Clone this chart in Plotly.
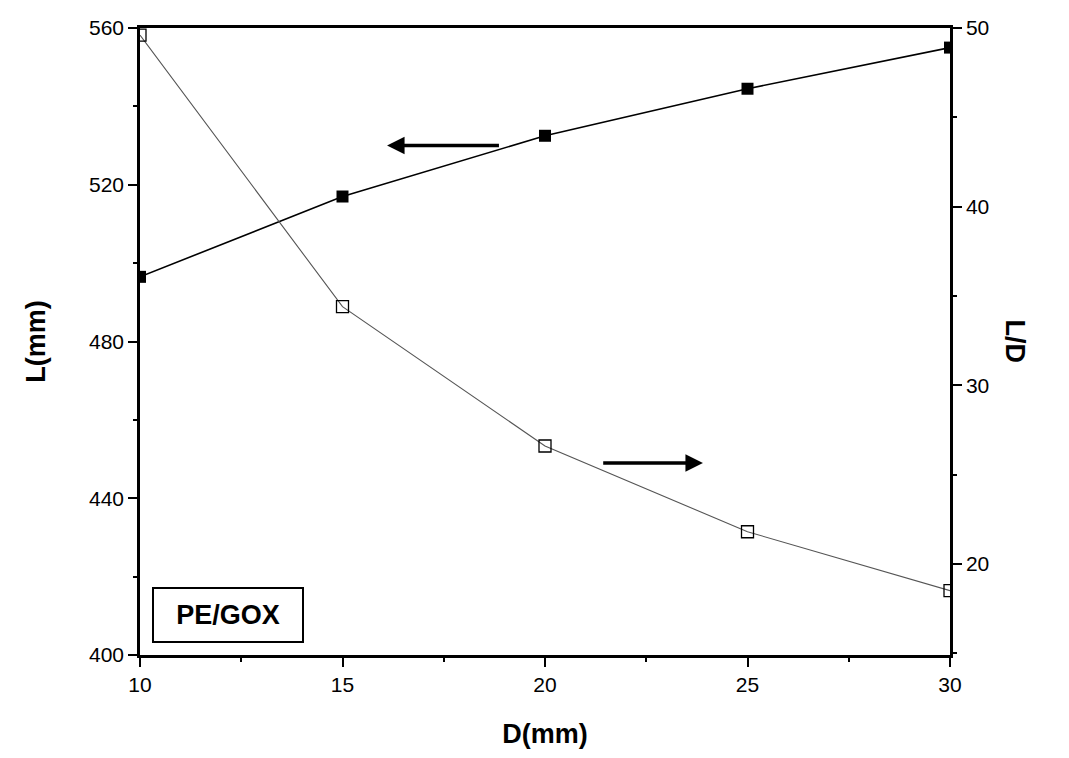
import plotly.graph_objects as go

D = [10, 15, 20, 25, 30]
L = [496.5, 517, 532.5, 544.5, 555]
LD = [49.6, 34.4, 26.6, 21.8, 18.5]

x_ticks = [10, 15, 20, 25, 30]
y_ticks = [400, 440, 480, 520, 560]
y2_ticks = [20, 30, 40, 50]

FONT = "Liberation Sans, Arial, sans-serif"

fig = go.Figure()
fig.add_trace(go.Scatter(
    x=D, y=L, mode="lines+markers",
    line=dict(color="black", width=1.6),
    marker=dict(symbol="square", size=12, color="black"),
    yaxis="y", showlegend=False))
fig.add_trace(go.Scatter(
    x=D, y=LD, mode="lines+markers",
    line=dict(color="#555555", width=1.1),
    marker=dict(symbol="square-open", size=12, color="black", line=dict(width=1.3)),
    yaxis="y2", showlegend=False))

axis_common = dict(showgrid=False, zeroline=False, linecolor="black", linewidth=2.5,
                   ticks="outside", tickcolor="black", tickwidth=2, ticklen=9,
                   tickfont=dict(family=FONT, size=21, color="black"))

fig.update_layout(
    width=1069, height=758,
    paper_bgcolor="white", plot_bgcolor="white",
    margin=dict(l=140, r=119, t=28, b=103),
    xaxis=dict(range=[10, 30], tickvals=x_ticks, mirror=True,
               minor=dict(ticks="outside", ticklen=4, tickcolor="black", dtick=2.5, tick0=10),
               title=dict(text="<b>D(mm)</b>", font=dict(family=FONT, size=27, color="black"), standoff=30),
               **axis_common),
    yaxis=dict(range=[400, 560], tickvals=y_ticks,
               minor=dict(ticks="outside", ticklen=4, tickcolor="black", dtick=20, tick0=400),
               title=dict(text="<b>L(mm)</b>", font=dict(family=FONT, size=27, color="black"), standoff=36),
               **axis_common),
    yaxis2=dict(range=[14.9, 50.0], tickvals=y2_ticks, overlaying="y", side="right",
                minor=dict(ticks="outside", ticklen=4, tickcolor="black", dtick=5, tick0=15),
                **axis_common),
    annotations=[
        dict(x=16.1, y=530, xref="x", yref="y", ax=18.9, ay=530, axref="x", ayref="y",
             showarrow=True, arrowhead=2, arrowsize=1, arrowwidth=3.5, arrowcolor="black", text=""),
        dict(x=23.9, y=449, xref="x", yref="y", ax=21.4, ay=449, axref="x", ayref="y",
             showarrow=True, arrowhead=2, arrowsize=1, arrowwidth=3.5, arrowcolor="black", text=""),
        dict(x=10.3, y=403, xref="x", yref="y", xanchor="left", yanchor="bottom",
             text="<b>PE/GOX</b>", showarrow=False, width=128, height=32,
             font=dict(family=FONT, size=27, color="black"),
             bordercolor="black", borderwidth=2, borderpad=10, bgcolor="white"),
        dict(x=1.0, xref="paper", y=0.5, yref="paper", xshift=82, text="<b>L/D</b>",
             textangle=90, showarrow=False, font=dict(family=FONT, size=27, color="black")),
    ],
)

fig.write_html("out.html")
